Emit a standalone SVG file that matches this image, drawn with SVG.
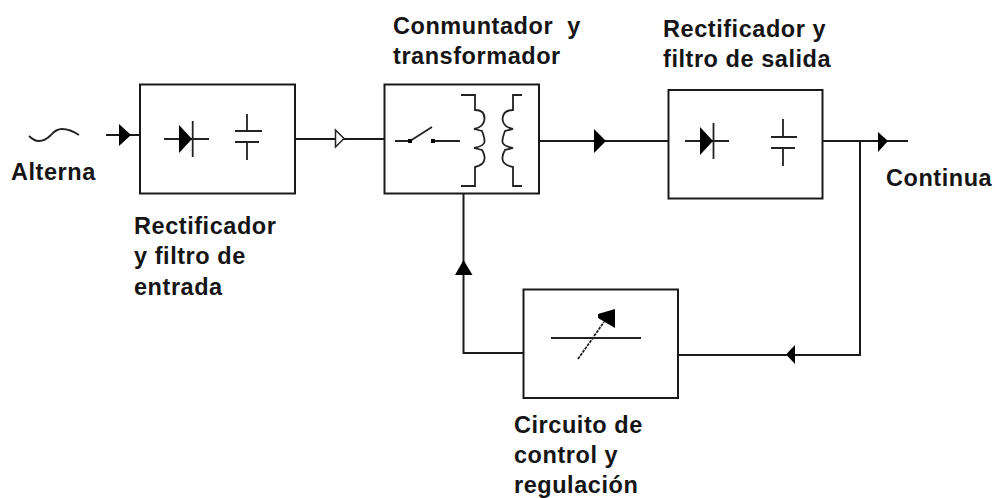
<svg xmlns="http://www.w3.org/2000/svg" width="995" height="498" viewBox="0 0 995 498">
<style>
.b{fill:#fff;stroke:#1a1a1a;stroke-width:2}
.l{fill:none;stroke:#1a1a1a;stroke-width:2}
.t{fill:none;stroke:#222;stroke-width:1.800}
.a{fill:#000;stroke:none}
text{font-family:"Liberation Sans",Arial,sans-serif;font-weight:bold;font-size:23.5px;letter-spacing:.55px;fill:#151515}
</style>
<rect width="995" height="498" fill="#fff"/>
<g id="connectors">
<path class="l" d="M106 135H140"/><path class="a" d="M119 124L131 135L119 146Z"/>
<path class="l" d="M295 139H384"/><path d="M335.500 130L344 138.500L335.500 147Z" fill="#fff" stroke="#222" stroke-width="1.500"/>
<path class="l" d="M539 141H668"/><path class="a" d="M594 129L606 141L594 153Z"/>
<path class="l" d="M823 141H908"/><path class="a" d="M878 132L888 141L878 152Z"/>
<path class="l" d="M860 141V355H678"/><path class="a" d="M795 345L786 354.500L795 364Z"/>
<path class="l" d="M523 353H463.500V193"/><path class="a" d="M463.500 260L472.500 275H455Z"/>
</g>
<g id="source"><path class="t" d="M29 136Q34 141 39 141Q45 141 51 135Q56 129 62 129Q70 129 79 135"/></g>
<g id="rectificador-entrada">
<rect class="b" x="140" y="84.500" width="155" height="109"/>
<path class="t" d="M164 139H209M192.700 121V157M235 131H262M235 142H259M247 114V131M247 142V160"/>
<path class="a" d="M179 125L192 139L179 153Z"/>
</g>
<g id="conmutador">
<rect class="b" x="384.500" y="84.500" width="154.500" height="109"/>
<path class="t" d="M395 141H410M410 141L432 127M432 141H460"/>
<rect class="a" x="408" y="139" width="4" height="4"/><rect class="a" x="431" y="139" width="4" height="4"/>
<path class="t" d="M461 95H475V110Q485 110 484.500 119Q484 127 474 129L482 131Q485 139 484.500 142Q484 146 474 148L482 150Q485 155 484.500 159Q484 165 475 167V186H461"/>
<path class="t" d="M522 95H513V110Q503 110 502.500 119Q503 127 513 129L505 131Q502 139 502.500 142Q503 146 513 148L505 150Q502 155 502.500 159Q503 165 513 167V186H522"/>
</g>
<g id="rectificador-salida">
<rect class="b" x="668.500" y="90" width="154" height="108.500"/>
<path class="t" d="M685 141H729M713.500 123V159M771 137H797M771 148H795M783 119V137M783 148V166"/>
<path class="a" d="M700 127L713 141L700 155Z"/>
</g>
<g id="control">
<rect class="b" x="523.500" y="289.500" width="154.500" height="108.500"/>
<path class="t" d="M551 338H641"/>
<path class="t" d="M578 359L604 322" stroke-dasharray="3 1"/>
<path class="a" d="M615 309V328L598 318V314Z"/>
</g>
<g id="labels">
<text x="11" y="180" letter-spacing=".8">Alterna</text>
<text x="134" y="234">Rectificador</text>
<text x="134" y="264">y filtro de</text>
<text x="134" y="295">entrada</text>
<text x="393" y="34" xml:space="preserve">Conmuntador  y</text>
<text x="393" y="64">transformador</text>
<text x="663" y="37">Rectificador y</text>
<text x="663" y="67">filtro de salida</text>
<text x="886" y="186">Continua</text>
<text x="514" y="433">Circuito de</text>
<text x="514" y="463">control y</text>
<text x="514" y="493">regulación</text>
</g>
</svg>
